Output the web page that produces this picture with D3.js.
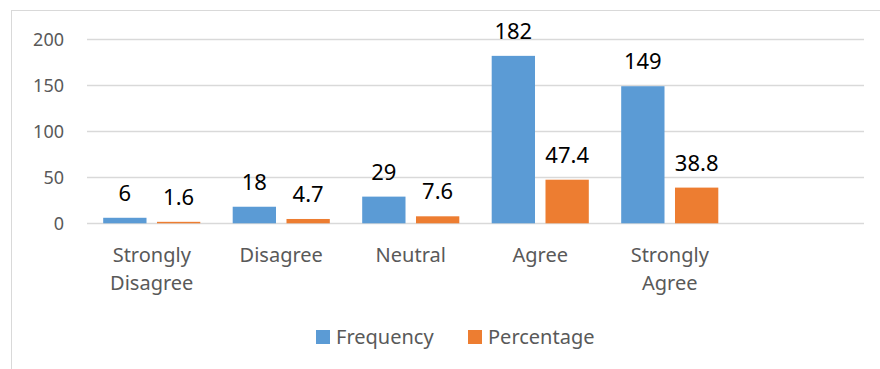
<!DOCTYPE html>
<html>
<head>
<meta charset="utf-8">
<script src="https://cdn.jsdelivr.net/npm/d3@7"></script>
<style>
  html, body { margin: 0; padding: 0; background: #fff; }
  svg { display: block; }
  text { font-family: "Noto Sans", "Open Sans", sans-serif; }
</style>
</head>
<body>
<svg id="chart" width="880" height="369"></svg>
<script>
// Survey responses: counts and share of respondents per answer
const categories = ["Strongly Disagree", "Disagree", "Neutral", "Agree", "Strongly Agree", ""];
const frequency = [6, 18, 29, 182, 149];
const percentage = [1.6, 4.7, 7.6, 47.4, 38.8];
const seriesNames = ["Frequency", "Percentage"];
const seriesColors = ["#5b9bd5", "#ed7d31"];
const yTicks = [0, 50, 100, 150, 200];

const FONT = "'Noto Sans', 'Open Sans', sans-serif";
const svg = d3.select("#chart");

// frame around the chart area
svg.append("rect")
  .attr("x", 11.5).attr("y", 10.5)
  .attr("width", 900).attr("height", 400)
  .attr("fill", "none").attr("stroke", "#d9d9d9").attr("stroke-width", 1);

const x0 = d3.scaleBand().domain(categories).range([87, 864]).paddingInner(0).paddingOuter(0);
const x1 = d3.scaleBand().domain(seriesNames).range([0, x0.bandwidth()])
  .paddingInner(0.195).paddingOuter(0.301);
const y = d3.scaleLinear().domain([0, 200]).range([223.3, 39.3]);

// horizontal gridlines
svg.append("g")
  .selectAll("line")
  .data(yTicks)
  .join("line")
  .attr("x1", 87).attr("x2", 864)
  .attr("y1", d => Math.round(y(d)) + 0.5)
  .attr("y2", d => Math.round(y(d)) + 0.5)
  .attr("stroke", "#d9d9d9").attr("stroke-width", 1.3);

// y axis labels
const yAxis = svg.append("g")
  .attr("transform", "translate(64,0)")
  .call(d3.axisLeft(y).tickValues(yTicks).tickSize(0).tickPadding(0));
yAxis.select(".domain").remove();
yAxis.selectAll("text")
  .attr("fill", "#595959")
  .attr("font-size", 18)
  .attr("font-family", FONT);

// bars
const rows = categories.slice(0, frequency.length).map((c, i) => ({
  cat: c,
  vals: [
    { s: seriesNames[0], v: frequency[i], label: String(frequency[i]) },
    { s: seriesNames[1], v: percentage[i], label: percentage[i].toFixed(1) }
  ]
}));

const groups = svg.append("g")
  .selectAll("g")
  .data(rows)
  .join("g")
  .attr("transform", d => `translate(${x0(d.cat)},0)`);

groups.selectAll("rect")
  .data(d => d.vals)
  .join("rect")
  .attr("x", d => x1(d.s))
  .attr("width", x1.bandwidth())
  .attr("y", d => y(d.v))
  .attr("height", d => y(0) - y(d.v))
  .attr("fill", (d, i) => seriesColors[i]);

// value labels above each bar
groups.selectAll("text")
  .data(d => d.vals)
  .join("text")
  .attr("x", d => x1(d.s) + x1.bandwidth() / 2)
  .attr("y", d => y(d.v) - 17)
  .attr("text-anchor", "middle")
  .attr("font-size", 22)
  .attr("fill", "#000")
  .text(d => d.label);

// category labels, wrapped onto two lines where needed
const xLabels = svg.append("g")
  .selectAll("text")
  .data(categories.filter(c => c !== ""))
  .join("text")
  .attr("x", d => x0(d) + x0.bandwidth() / 2)
  .attr("y", 262)
  .attr("text-anchor", "middle")
  .attr("font-size", 20)
  .attr("fill", "#595959");

xLabels.each(function(d) {
  const words = d.split(" ");
  const t = d3.select(this);
  if (words.length > 1 && d.length > 9) {
    t.append("tspan").attr("x", t.attr("x")).attr("dy", 0).text(words[0]);
    t.append("tspan").attr("x", t.attr("x")).attr("dy", 28).text(words.slice(1).join(" "));
  } else {
    t.text(d);
  }
});

// legend
const legendItems = [
  { name: seriesNames[0], color: seriesColors[0], x: 316 },
  { name: seriesNames[1], color: seriesColors[1], x: 468 }
];
const legend = svg.append("g")
  .selectAll("g")
  .data(legendItems)
  .join("g")
  .attr("transform", d => `translate(${d.x},330)`);
legend.append("rect")
  .attr("width", 14).attr("height", 14)
  .attr("fill", d => d.color);
legend.append("text")
  .attr("x", 20).attr("y", 14)
  .attr("font-size", 20)
  .attr("fill", "#595959")
  .text(d => d.name);
</script>
</body>
</html>
